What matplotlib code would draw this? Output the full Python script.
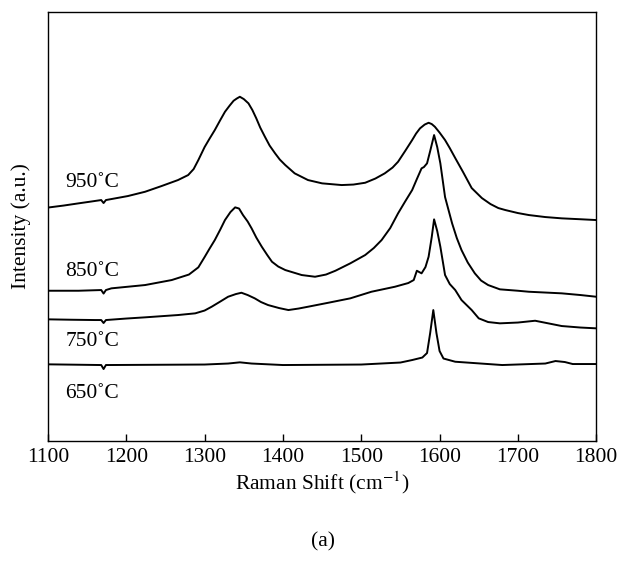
import matplotlib
matplotlib.use("Agg")
from matplotlib import pyplot as plt

plt.rcParams['font.family'] = ['Liberation Serif', 'DejaVu Serif']
plt.rcParams['mathtext.fontset'] = 'stix'

# spectra (Raman shift in cm-1, intensity in a.u., offset stacked)
shift950 = [1100, 1120, 1139, 1155, 1168, 1171, 1174, 1188, 1202, 1224, 1245, 1266, 1279, 1286, 1292,
            1300, 1306, 1313, 1320, 1326, 1332, 1337, 1341, 1345, 1350, 1356, 1361, 1366, 1371,
            1377, 1383, 1390, 1396, 1403, 1415, 1432, 1450, 1475, 1490, 1505, 1518, 1530, 1540,
            1547, 1556, 1565, 1570, 1575, 1581, 1586, 1590, 1594, 1600, 1607, 1613, 1620, 1630,
            1641, 1654, 1665, 1675, 1684, 1700, 1714, 1735, 1756, 1780, 1800]
int950 = [233.5, 235.5, 237.7, 239.5, 241, 238, 241, 243, 245, 249.3, 255, 261, 266, 272, 281,
          294, 302, 311, 321, 329.3, 335.5, 340.3, 342.5, 344.3, 342, 337.7, 331, 322.7, 313.5,
          304.3, 295.5, 287.7, 281.5, 276, 267.7, 261, 257.7, 256, 256.5, 258.3, 262.5, 267.7, 273.5,
          279.3, 290, 301, 307.5, 312.7, 316.5, 318.3, 317, 314.3, 308.5, 301, 293, 283, 269,
          253, 243, 237, 233, 231, 228, 226, 224, 222.7, 221.8, 221]

shift850 = [1100, 1139, 1168, 1171, 1174, 1181, 1224, 1258, 1280, 1292, 1300, 1306, 1313, 1320, 1326,
            1333, 1339, 1344, 1349, 1355, 1360, 1366, 1373, 1380, 1386, 1394, 1403, 1424, 1441,
            1455, 1467, 1486, 1505, 1516, 1526, 1537, 1547, 1556, 1565, 1571, 1577, 1580, 1584,
            1588, 1593, 1597, 1601, 1607, 1616, 1622, 1628, 1636, 1645, 1653, 1662, 1677, 1700,
            1714, 1735, 1756, 1780, 1800]
int850 = [150.3, 150.3, 151, 147.5, 151, 152.7, 156, 161, 166.5, 173.7, 184, 192, 201, 211.5, 221,
          229, 233.7, 232.5, 226, 219.5, 212.7, 203.5, 194.3, 186, 179.3, 174.5, 171, 166, 164.3,
          166.5, 170.3, 177.7, 186, 193, 201, 213, 227.7, 239.5, 251, 262, 272.7, 274, 277.7,
          290, 306, 294, 277.7, 244, 217.7, 203, 191, 178.5, 167.7, 160.5, 156, 151.7, 150.3,
          149.3, 148.5, 147.7, 146, 144.3]

shift750 = [1100, 1130, 1160, 1168, 1171, 1174, 1200, 1224, 1266, 1288, 1300, 1309, 1320, 1330, 1340,
            1347, 1355, 1364, 1372, 1381, 1395, 1407, 1420, 1432, 1458, 1486, 1513, 1543, 1560,
            1567, 1571, 1577, 1582, 1586, 1590, 1593, 1597, 1601, 1607, 1613, 1620, 1628, 1641,
            1650, 1662, 1677, 1700, 1722, 1740, 1756, 1780, 1800]
int750 = [121.7, 121.3, 121, 121, 118, 121, 122.5, 123.7, 126, 127.7, 130.5, 134.3, 139.5, 144.3, 147,
          148.3, 146, 142.7, 139, 136, 133, 131, 132.5, 134.3, 138.3, 142.7, 149.3, 154.3, 158,
          161, 170.3, 167.7, 174, 184.3, 204, 221.7, 210, 194.3, 166, 157, 151, 141, 131,
          122.7, 119, 117.7, 118.5, 120.3, 117.5, 115, 113.5, 112.7]

shift650 = [1100, 1168, 1171, 1174, 1300, 1330, 1345, 1360, 1400, 1500, 1550, 1565, 1578, 1584, 1588,
            1592, 1596, 1600, 1605, 1620, 1680, 1735, 1748, 1760, 1770, 1800]
int650 = [76.7, 76, 72, 76, 76.5, 77.5, 78.7, 77.5, 76, 76.5, 78.5, 81, 83.5, 88, 108,
          131, 108, 90, 82.5, 79.3, 76, 77.5, 80, 79, 77, 77]

labels = ['950˚C', '850˚C', '750˚C', '650˚C']
label_y = [259, 170, 100, 48]

fig = plt.figure(figsize=(6.23, 5.75), dpi=100)
ax = fig.add_axes([0.077, 0.233, 0.880, 0.746])

for sx, sy in [(shift950, int950), (shift850, int850), (shift750, int750), (shift650, int650)]:
    ax.plot(sx, sy, color='black', lw=1.4)

for lab, ly in zip(labels, label_y):
    ax.text(1122, ly, lab, fontsize=15.5, va='center', ha='left')

ax.set_xlim(1100, 1800)
ax.set_ylim(0, 429)
ax.set_xticks([1100, 1200, 1300, 1400, 1500, 1600, 1700, 1800])
ax.set_yticks([])
ax.tick_params(axis='x', direction='in', length=5, width=1, labelsize=15.5, pad=5)
for s in ax.spines.values():
    s.set_linewidth(1.0)

ax.set_xlabel('Raman Shift (cm$^{-1}$)', fontsize=15.5, labelpad=2)
ax.set_ylabel('Intensity (a.u.)', fontsize=15.5, labelpad=12)
fig.text(0.518, 0.058, '(a)', fontsize=15.5, ha='center', va='center')

fig.savefig('out.png', dpi=100)
